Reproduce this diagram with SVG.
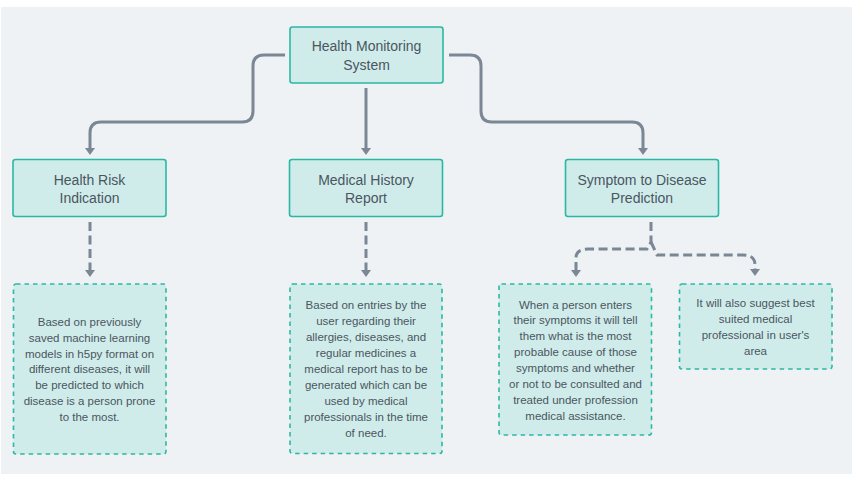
<svg xmlns="http://www.w3.org/2000/svg" width="854" height="484" viewBox="0 0 854 484">
<defs>
<style>
.bg{fill:#eef2f5}
.node{fill:#cfecea;stroke:#2bb8a3;stroke-width:1.6}
.note{fill:#cfecea;stroke:#2bb8a3;stroke-width:1.6;stroke-dasharray:4.5 4}
.t{font-family:"Liberation Sans",Arial,sans-serif;font-size:14px;fill:#4b5561;text-anchor:middle}
.b{font-family:"Liberation Sans",Arial,sans-serif;font-size:11.5px;fill:#4b5561;text-anchor:middle}
.c{fill:none;stroke:#7b8795;stroke-width:3;stroke-linejoin:round}
.d{fill:none;stroke:#7b8795;stroke-width:3;stroke-dasharray:9 4.5}
</style>
<marker id="ah" viewBox="0 0 7 10" refX="0" refY="5" markerWidth="7" markerHeight="10" markerUnits="userSpaceOnUse" orient="auto">
<path d="M0,0 L7,5 L0,10 z" fill="#7b8795"/>
</marker>
</defs>
<rect x="0" y="0" width="854" height="484" fill="#ffffff"/>
<rect class="bg" x="1" y="7" width="851" height="467"/>
<g id="connectors">
<path class="c" d="M285,55 H264 Q253,55 253,66 V111 Q253,122 242,122 H101 Q90,122 90,133 V148" marker-end="url(#ah)"/>
<path class="c" d="M366,88 V148" marker-end="url(#ah)"/>
<path class="c" d="M449,55 H470 Q481,55 481,66 V111 Q481,122 492,122 H632 Q643,122 643,133 V148" marker-end="url(#ah)"/>
<path class="d" d="M90,222 V270" marker-end="url(#ah)"/>
<path class="d" d="M366,222 V270" marker-end="url(#ah)"/>
<path class="d" d="M651,222 V242 L647,249 H588 Q576,249 576,258 V270" marker-end="url(#ah)"/>
<path class="d" d="M651,242 L657,255 H743 Q755,255 755,265 V269" marker-end="url(#ah)"/>
</g>
<g id="health-monitoring">
<rect class="node" x="290" y="27" width="153" height="56" rx="2.5"/>
<text class="t" x="366.5" y="51">Health Monitoring</text>
<text class="t" x="366.5" y="70">System</text>
</g>
<g id="health-risk">
<rect class="node" x="13" y="159.5" width="153" height="57" rx="2.5"/>
<text class="t" x="89.5" y="184.5">Health Risk</text>
<text class="t" x="89.5" y="203">Indication</text>
</g>
<g id="medical-history">
<rect class="node" x="289.5" y="159.5" width="153" height="57" rx="2.5"/>
<text class="t" x="366" y="184.5">Medical History</text>
<text class="t" x="366" y="203">Report</text>
</g>
<g id="symptom-disease">
<rect class="node" x="565.5" y="159.5" width="153" height="57" rx="2.5"/>
<text class="t" x="642" y="184.5">Symptom to Disease</text>
<text class="t" x="642" y="203">Prediction</text>
</g>
<g id="health-risk-note">
<rect class="note" x="13.5" y="284" width="152.5" height="170" rx="2.5"/>
<text class="b" x="89.5" y="326"><tspan x="89.5">Based on previously</tspan><tspan x="89.5" dy="15.8">saved machine learning</tspan><tspan x="89.5" dy="15.8">models in h5py format on</tspan><tspan x="89.5" dy="15.8">different diseases, it will</tspan><tspan x="89.5" dy="15.8">be predicted to which</tspan><tspan x="89.5" dy="15.8">disease is a person prone</tspan><tspan x="89.5" dy="15.8">to the most.</tspan></text>
</g>
<g id="medical-history-note">
<rect class="note" x="290" y="284" width="152" height="169.5" rx="2.5"/>
<text class="b" x="366" y="309"><tspan x="366">Based on entries by the</tspan><tspan x="366" dy="16">user regarding their</tspan><tspan x="366" dy="16">allergies, diseases, and</tspan><tspan x="366" dy="16">regular medicines a</tspan><tspan x="366" dy="16">medical report has to be</tspan><tspan x="366" dy="16">generated which can be</tspan><tspan x="366" dy="16">used by medical</tspan><tspan x="366" dy="16">professionals in the time</tspan><tspan x="366" dy="16">of need.</tspan></text>
</g>
<g id="symptom-note">
<rect class="note" x="499" y="284" width="152.5" height="151" rx="2.5"/>
<text class="b" x="575.5" y="308.5"><tspan x="575.5">When a person enters</tspan><tspan x="575.5" dy="15.9">their symptoms it will tell</tspan><tspan x="575.5" dy="15.9">them what is the most</tspan><tspan x="575.5" dy="15.9">probable cause of those</tspan><tspan x="575.5" dy="15.9">symptoms and whether</tspan><tspan x="575.5" dy="15.9">or not to be consulted and</tspan><tspan x="575.5" dy="15.9">treated under profession</tspan><tspan x="575.5" dy="15.9">medical assistance.</tspan></text>
</g>
<g id="professional-note">
<rect class="note" x="679.5" y="284" width="152.5" height="85" rx="2.5"/>
<text class="b" x="755.5" y="307"><tspan x="755.5">It will also suggest best</tspan><tspan x="755.5" dy="15.9">suited medical</tspan><tspan x="755.5" dy="15.9">professional in user's</tspan><tspan x="755.5" dy="15.9">area</tspan></text>
</g>
</svg>
